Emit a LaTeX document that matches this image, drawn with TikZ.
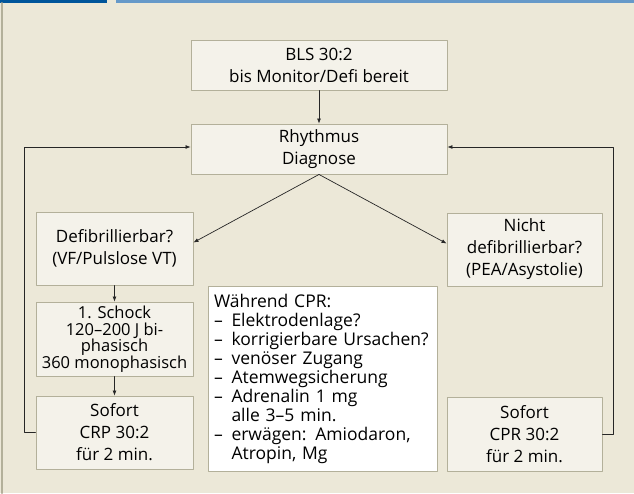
\documentclass[tikz,border=0pt]{standalone}
\usepackage{fontspec}
\setmainfont{Open Sans}
\usetikzlibrary{arrows.meta}

\definecolor{bgbeige}{HTML}{ECE8D8}
\definecolor{boxfill}{HTML}{F4F2EA}
\definecolor{boxline}{HTML}{B3B09A}
\definecolor{bardark}{HTML}{00559B}
\definecolor{barlight}{HTML}{6699C9}

\begin{document}
\begin{tikzpicture}[x=1pt,y=-1pt,line cap=round,line join=round,
    >={Latex[length=5pt,width=4pt]},
    stepbox/.style={draw=boxline,fill=boxfill,line width=0.9pt,align=center,
        inner sep=0pt,font=\fontsize{17}{22}\selectfont},
    flow/.style={->,line width=0.7pt,draw=black!85}]
            \useasboundingbox (0,0) rectangle (634,493);
            \fill[bgbeige] (0,0) rectangle (634,493);
            \fill[bardark] (0,0) rectangle (107,3);
            \fill[barlight] (116,0) rectangle (634,3);
            \draw[boxline,line width=2pt] (2,3) -- (2,493);
            % top
            \node[stepbox,minimum width=256,minimum height=50] (bls) at (319,65) {BLS 30:2\\bis Monitor/Defi bereit};
            \node[stepbox,minimum width=256,minimum height=50] (rhy) at (319,149) {Rhythmus\\Diagnose};
            % left branch
            \node[stepbox,minimum width=157,minimum height=73] (defi) at (114.5,248.5) {Defibrillierbar?\\(VF/Pulslose VT)};
            \node[stepbox,minimum width=157,minimum height=74,font=\fontsize{16.5}{16.5}\selectfont] (schock) at (114.5,339) {1. Schock\\120–200 J bi-\\phasisch\\360 monophasisch};
            \node[stepbox,minimum width=157,minimum height=73] (sofortl) at (114.5,432.5) {Sofort\\CRP 30:2\\für 2 min.};
            % right branch
            \node[stepbox,minimum width=155,minimum height=73] (nicht) at (524.5,249.5) {Nicht\\defibrillierbar?\\(PEA/Asystolie)};
            \node[stepbox,minimum width=155,minimum height=74] (sofortr) at (524.5,434) {Sofort\\CPR 30:2\\für 2 min.};
            % middle
            \node[stepbox,fill=white,minimum width=229,minimum height=185,text width=217,align=left,
                font=\fontsize{17.5}{19}\selectfont] (waehrend) at (322.5,378.5) {Während CPR:\\
                –\enspace Elektrodenlage?\\
                \mbox{–\enspace korrigierbare Ursachen?}\\
                –\enspace venöser Zugang\\
                –\enspace Atemwegsicherung\\
                –\enspace Adrenalin 1 mg\\
                \phantom{–}\enspace alle 3–5 min.\\
                –\enspace erwägen: Amiodaron,\\
                \phantom{–}\enspace Atropin, Mg};
            \draw[flow] (bls) -- (rhy);
            \draw[flow] (rhy.south) -- ([yshift=6pt]defi.east);
            \draw[flow] (rhy.south) -- ([yshift=6pt]nicht.west);
            \draw[flow] (defi) -- (schock);
            \draw[flow] (schock) -- (sofortl);
            \draw[flow] (sofortl.west) -- ++(-11,0) |- ([yshift=2pt]rhy.west);
            \draw[flow] (sofortr.east) -- ++(11,0) |- ([yshift=2pt]rhy.east);
        \end{tikzpicture}
\end{document}
